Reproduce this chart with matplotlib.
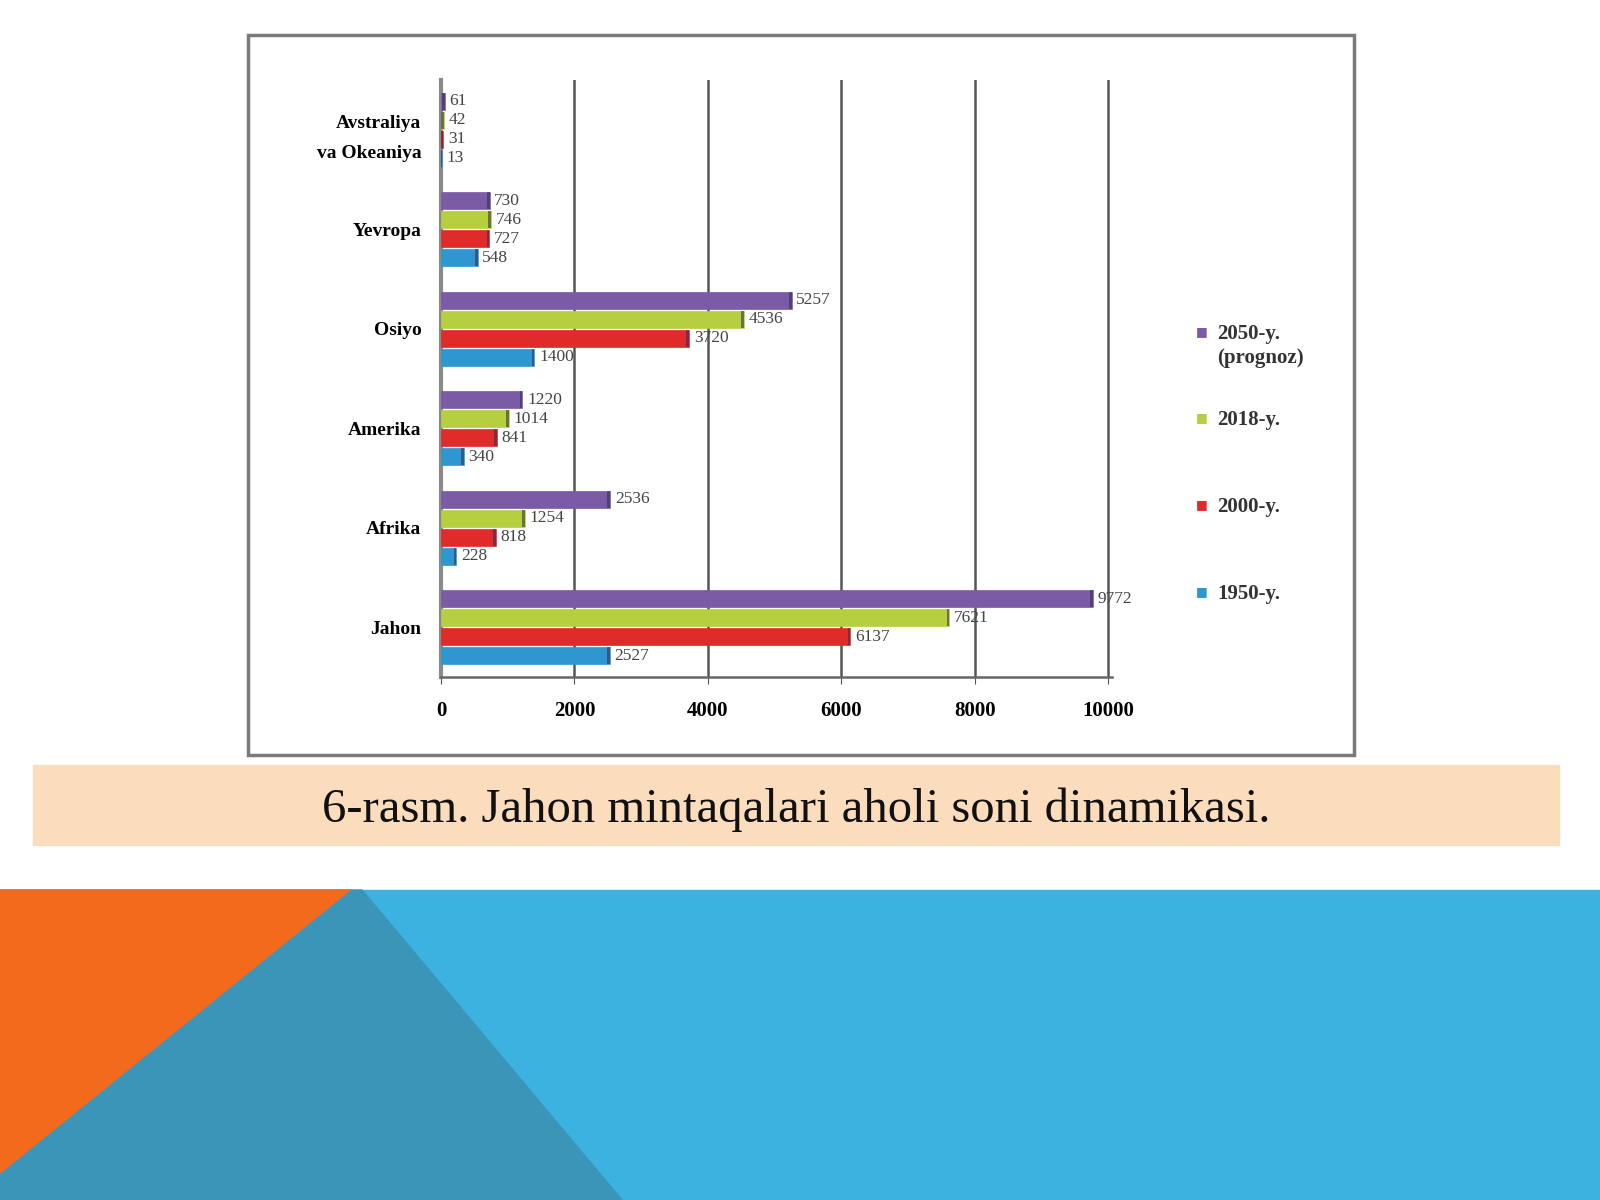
import numpy as np
import matplotlib.pyplot as plt
from matplotlib.patches import Rectangle, Polygon

regions = ["Jahon", "Afrika", "Amerika", "Osiyo", "Yevropa", "Avstraliya\nva Okeaniya"]
year_labels = ["1950-y.", "2000-y.", "2018-y.", "2050-y.\n(prognoz)"]
pop_1950 = [2527, 228, 340, 1400, 548, 13]
pop_2000 = [6137, 818, 841, 3720, 727, 31]
pop_2018 = [7621, 1254, 1014, 4536, 746, 42]
pop_2050 = [9772, 2536, 1220, 5257, 730, 61]
x_ticks = [0, 2000, 4000, 6000, 8000, 10000]
caption = "6-rasm. Jahon mintaqalari aholi soni dinamikasi."

colors = ["#2f97cf", "#e02b2b", "#b6cf3e", "#7b5aa6"]
serif = ["Liberation Serif", "DejaVu Serif"]

fig = plt.figure(figsize=(16, 12), dpi=100)
fig.patch.set_facecolor("white")

## slide decorations (pixel positions -> figure fractions)
W, H = 1600, 1200
def fx(px): return px / W
def fy(py): return 1 - py / H

fig.add_artist(Rectangle((0, 0), 1, fy(890), transform=fig.transFigure, color="#3bb2e0", zorder=0))
fig.add_artist(Polygon([(0, fy(890)), (fx(362), fy(890)), (fx(622), fy(1200)), (0, fy(1200))],
                       closed=True, transform=fig.transFigure, color="#3a95b9", zorder=1))
fig.add_artist(Polygon([(0, fy(890)), (fx(350), fy(890)), (0, fy(1173))],
                       closed=True, transform=fig.transFigure, color="#f46a1d", zorder=2))

## caption band
fig.add_artist(Rectangle((fx(33), fy(845)), fx(1559) - fx(33), fy(765) - fy(845),
                         transform=fig.transFigure, color="#fbdcbd", zorder=1))
fig.text(fx(796), fy(810), caption, ha="center", va="center", fontsize=35,
         family=serif, color="#111111")

## chart frame
fig.add_artist(Rectangle((fx(248), fy(755)), fx(1354) - fx(248), fy(35) - fy(755),
                         transform=fig.transFigure, fill=False, ec="#7a7a7a", lw=2.5, zorder=3))

ax = fig.add_axes([fx(441), fy(677), fx(1112) - fx(441), fy(80) - fy(677)])
ax.set_facecolor("none")

y = np.arange(len(regions))
step = 0.19
series = [pop_1950, pop_2000, pop_2018, pop_2050]
for j, (vals, col) in enumerate(zip(series, colors)):
    pos = y + (j - 1.5) * step
    ax.barh(pos, vals, height=0.17, color=col, edgecolor=col, lw=0.5, zorder=3)
    ax.barh(pos, [40] * len(vals), left=np.array(vals) - 40, height=0.17,
            color="#333355", alpha=0.6, lw=0, zorder=4)
    for p, v in zip(pos, vals):
        ax.text(v + 70, p, str(v), va="center", ha="left", fontsize=12.5,
                family=serif, color="#444444", zorder=5)

ax.set_xlim(0, 10060)
ax.set_ylim(-0.5, len(regions) - 0.5)
ax.set_xticks(x_ticks)
ax.set_xticklabels([str(t) for t in x_ticks], fontsize=15, fontweight="bold", family=serif)
ax.set_yticks(y)
ax.set_yticklabels(regions, fontsize=14, fontweight="bold", family=serif,
                   multialignment="right", linespacing=2.0)
ax.tick_params(axis="y", length=0, pad=14)
ax.tick_params(axis="x", length=5, pad=12, color="#555555")
ax.grid(axis="x", color="#555555", lw=1.8, zorder=0)
ax.set_axisbelow(True)
for s in ["top", "right"]:
    ax.spines[s].set_visible(False)
ax.spines["left"].set(color="#8a8a8a", lw=3)
ax.spines["bottom"].set(color="#666666", lw=1.8)

## legend (manual, entries top to bottom)
legend_y = [332, 418, 505, 592]
for lab, col, ly in zip(year_labels[::-1], colors[::-1], legend_y):
    fig.text(fx(1196), fy(ly), "\u25a0", color=col, fontsize=9, ha="left", va="center", family="DejaVu Sans")
    fig.text(fx(1217), fy(ly - 8), lab, ha="left", va="top", fontsize=15, fontweight="bold",
             family=serif, color="#333333", linespacing=1.25)

fig.savefig("out.png", dpi=100)
